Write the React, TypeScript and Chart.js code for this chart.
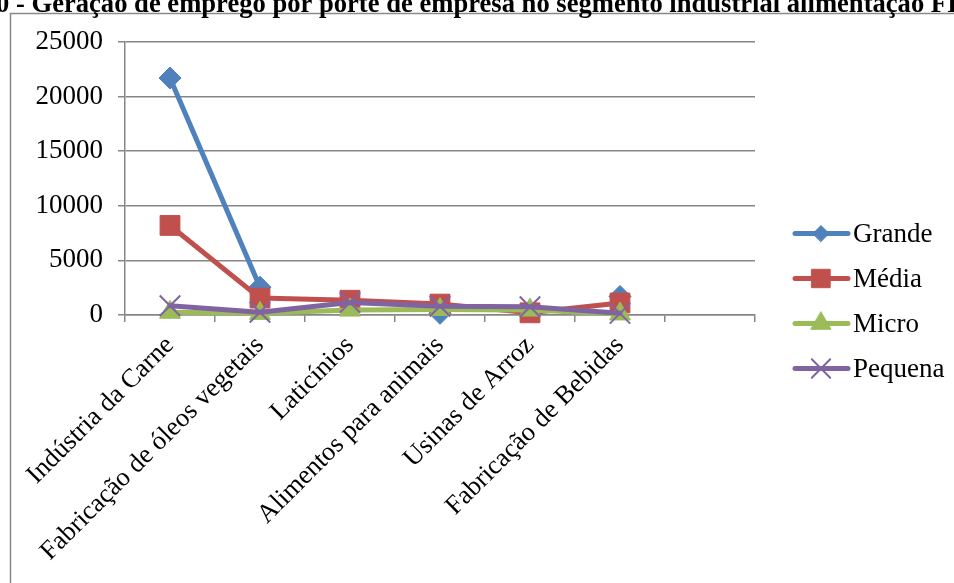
import React, { useEffect, useRef } from 'react';
import { Chart, registerables } from 'chart.js';
import { drawPoint } from 'chart.js/helpers';

Chart.register(...registerables);

// Categorias do segmento (a última coluna fica vazia)
const categories = [
  'Indústria da Carne',
  'Fabricação de óleos vegetais',
  'Laticínios',
  'Alimentos para animais',
  'Usinas de Arroz',
  'Fabricação de Bebidas',
  '',
];

// Empregos por porte de empresa
const grande = [21700, 2550, null, 150, null, 1700, null];
const media = [8200, 1550, 1350, 1000, 200, 1100, null];
const micro = [250, 150, 450, 500, 450, 100, null];
const pequena = [850, 250, 1150, 800, 750, 150, null];

const seriesNames = ['Grande', 'Média', 'Micro', 'Pequena'];
const yMin = 0;
const yMax = 25000;
const yStep = 5000;

const TITLE = '0 - Geração de emprego por porte de empresa no segmento industrial alimentação FI';

const FONT = '"Liberation Serif", "Times New Roman", serif';
const GRID = '#868686';
const LABEL_SIZE = 27;
const CATEGORY_SIZE = 26.5;

const PLOT_LEFT = 125;
const PLOT_TOP = 42;
const PLOT_RIGHT = 755;
const PLOT_BOTTOM = 315;
const W = 954;
const H = 583;

const seriesStyles = [
  { color: '#4F81BD', pointStyle: 'rectRot', radius: 11, legendRadius: 8, borderWidth: 1 },
  { color: '#C0504D', pointStyle: 'rect', radius: 14, legendRadius: 13, borderWidth: 1 },
  { color: '#9BBB59', pointStyle: 'triangle', radius: 12, legendRadius: 11.5, borderWidth: 1 },
  { color: '#8064A2', pointStyle: 'crossRot', radius: 14.5, legendRadius: 13, borderWidth: 2 },
];

// Moldura do gráfico, título e legenda desenhados à mão no canvas
const decorPlugin = {
  id: 'decor',
  beforeDraw(chart: any) {
    const ctx = chart.ctx;
    ctx.save();
    ctx.fillStyle = '#fff';
    ctx.fillRect(0, 0, W, H);
    ctx.strokeStyle = '#8a8a8a';
    ctx.lineWidth = 1.5;
    ctx.beginPath();
    ctx.moveTo(10.5, H + 5);
    ctx.lineTo(10.5, 13.5);
    ctx.lineTo(W + 5, 13.5);
    ctx.stroke();
    ctx.fillStyle = '#000';
    ctx.font = `bold 26.6px ${FONT}`;
    ctx.textBaseline = 'alphabetic';
    ctx.textAlign = 'left';
    ctx.fillText(TITLE, -4, 12);
    ctx.restore();
  },
  afterDraw(chart: any) {
    const ctx = chart.ctx;
    chart.data.datasets.forEach((ds: any, i: number) => {
      const st = seriesStyles[i];
      const y = 233.5 + i * 45;
      ctx.save();
      ctx.strokeStyle = st.color;
      ctx.lineWidth = 5;
      ctx.lineCap = 'round';
      ctx.beginPath();
      ctx.moveTo(795, y);
      ctx.lineTo(848, y);
      ctx.stroke();
      ctx.fillStyle = st.color;
      ctx.strokeStyle = st.color;
      ctx.lineWidth = st.borderWidth;
      drawPoint(ctx, { pointStyle: st.pointStyle, radius: st.legendRadius, borderWidth: st.borderWidth, rotation: 0 } as any, 821, y);
      ctx.fillStyle = '#000';
      ctx.font = `${LABEL_SIZE}px ${FONT}`;
      ctx.textBaseline = 'middle';
      ctx.textAlign = 'left';
      ctx.fillText(ds.label, 853, y + 1);
      ctx.restore();
    });
  },
};

export default function App() {
  const canvasRef = useRef<HTMLCanvasElement | null>(null);

  useEffect(() => {
    const canvas = canvasRef.current;
    if (!canvas) return;
    const values = [grande, media, micro, pequena];
    const chart = new Chart(canvas, {
      type: 'line',
      data: {
        labels: categories,
        datasets: values.map((data, i) => {
          const st = seriesStyles[i];
          return {
            label: seriesNames[i],
            data,
            borderColor: st.color,
            backgroundColor: st.color,
            borderWidth: 5,
            borderCapStyle: 'round',
            borderJoinStyle: 'round',
            pointStyle: st.pointStyle,
            pointRadius: st.radius,
            pointBackgroundColor: st.color,
            pointBorderColor: st.color,
            pointBorderWidth: st.borderWidth,
            spanGaps: false,
            tension: 0,
            clip: false,
            order: 3 - i,
          } as any;
        }),
      },
      options: {
        responsive: false,
        animation: false,
        devicePixelRatio: 1,
        layout: {
          padding: { left: 0, top: PLOT_TOP, right: W - PLOT_RIGHT, bottom: 0 },
        },
        plugins: {
          legend: { display: false },
          title: { display: false },
          tooltip: { enabled: false },
        },
        scales: {
          x: {
            type: 'category',
            offset: true,
            grid: {
              display: true,
              offset: true,
              drawOnChartArea: false,
              drawTicks: true,
              tickLength: 7,
              color: GRID,
              lineWidth: 1.5,
            },
            border: { display: true, color: GRID, width: 1.5 },
            ticks: {
              autoSkip: false,
              minRotation: 45,
              maxRotation: 45,
              padding: 8,
              color: '#000',
              font: { family: FONT, size: CATEGORY_SIZE },
            },
            afterFit(scale: any) {
              scale.height = H - PLOT_BOTTOM;
            },
          },
          y: {
            min: yMin,
            max: yMax,
            grid: {
              color: GRID,
              lineWidth: 1.5,
              drawTicks: true,
              tickLength: 7,
            },
            border: { display: true, color: GRID, width: 1.5 },
            ticks: {
              stepSize: yStep,
              padding: 15,
              color: '#000',
              font: { family: FONT, size: LABEL_SIZE },
              callback: (value: any) => String(value),
            },
            afterFit(scale: any) {
              scale.width = PLOT_LEFT;
            },
          },
        },
      } as any,
      plugins: [decorPlugin],
    });
    return () => chart.destroy();
  }, []);

  return (
    <div style={{ position: 'fixed', left: 0, top: 0, width: W, height: H, overflow: 'hidden', background: '#fff' }}>
      <canvas ref={canvasRef} width={W} height={H} style={{ display: 'block', width: W, height: H }} />
    </div>
  );
}
